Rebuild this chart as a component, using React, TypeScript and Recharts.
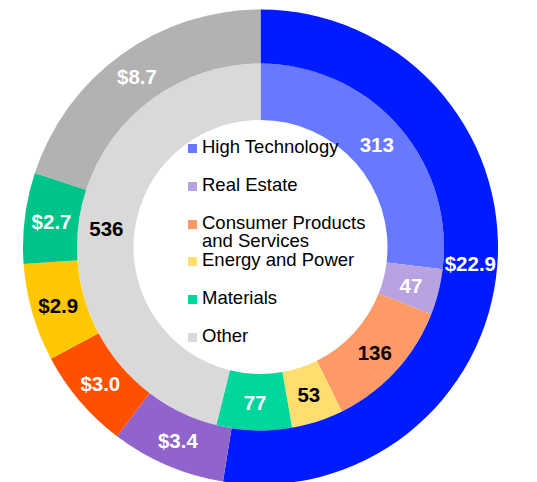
import { Cell, Pie, PieChart } from "recharts";

const categories = [
  "High Technology",
  "Real Estate",
  "Consumer Products and Services",
  "Energy and Power",
  "Materials",
  "Other",
];
const dealCounts = [313, 47, 136, 53, 77, 536];
const dealValues = [22.9, 3.4, 3.0, 2.9, 2.7, 8.7];

const innerColors = ["#6878FF", "#B9A2E0", "#FF9966", "#FFDD6E", "#00D59B", "#D9D9D9"];
const outerColors = ["#001BFF", "#9063CD", "#FF5000", "#FFC800", "#00C389", "#B2B2B2"];
const innerLabelColors = ["#fff", "#fff", "#000", "#000", "#fff", "#000"];
const outerLabelColors = ["#fff", "#fff", "#fff", "#000", "#fff", "#fff"];

const FONT = "'Liberation Sans', Arial, sans-serif";
const RAD = Math.PI / 180;

const innerData = categories.map((name, i) => ({ name, value: dealCounts[i] }));
const outerData = categories.map((name, i) => ({ name, value: dealValues[i] }));

const makeLabel =
  (colors: string[], fmt: (v: number) => string) => (props: any) => {
    const { cx, cy, midAngle, innerRadius, outerRadius, index, value } = props;
    const r = (innerRadius + outerRadius) / 2;
    const x = cx + r * Math.cos(-midAngle * RAD);
    const y = cy + r * Math.sin(-midAngle * RAD);
    return (
      <text
        x={x}
        y={y}
        fill={colors[index]}
        textAnchor="middle"
        dominantBaseline="central"
        fontFamily={FONT}
        fontWeight="bold"
        fontSize={20.5}
      >
        {fmt(value)}
      </text>
    );
  };

// legend sits in the hole of the donut
const CenterLegend = () => (
  <div
    style={{
      position: "absolute",
      left: 188,
      top: 138,
      width: 200,
      fontFamily: FONT,
      fontSize: 18.5,
      color: "#000",
    }}
  >
    {categories.map((name, i) => (
      <div key={name} style={{ height: 37.8, display: "flex", alignItems: "flex-start" }}>
        <span
          style={{
            width: 9,
            height: 9,
            marginTop: 6,
            marginRight: 5,
            background: innerColors[i],
            flexShrink: 0,
          }}
        />
        <span style={{ lineHeight: "18.6px", width: 180 }}>{name}</span>
      </div>
    ))}
  </div>
);

export default function App() {
  return (
    <div style={{ position: "absolute", left: 0, top: 0, width: 537, height: 482, background: "#fff" }}>
      <PieChart width={537} height={482} margin={{ top: 0, right: 0, bottom: 0, left: 0 }}>
        <Pie
          data={innerData}
          dataKey="value"
          cx={260.5}
          cy={247}
          innerRadius={127}
          outerRadius={183.5}
          startAngle={90}
          endAngle={-270}
          stroke="none"
          labelLine={false}
          label={makeLabel(innerLabelColors, (v) => String(v))}
          isAnimationActive={false}
        >
          {innerData.map((d, i) => (
            <Cell key={d.name} fill={innerColors[i]} />
          ))}
        </Pie>
        <Pie
          data={outerData}
          dataKey="value"
          cx={260.5}
          cy={247}
          innerRadius={183.5}
          outerRadius={237.5}
          startAngle={90}
          endAngle={-270}
          stroke="none"
          labelLine={false}
          label={makeLabel(outerLabelColors, (v) => `$${v.toFixed(1)}`)}
          isAnimationActive={false}
        >
          {outerData.map((d, i) => (
            <Cell key={d.name} fill={outerColors[i]} />
          ))}
        </Pie>
      </PieChart>
      <CenterLegend />
    </div>
  );
}
